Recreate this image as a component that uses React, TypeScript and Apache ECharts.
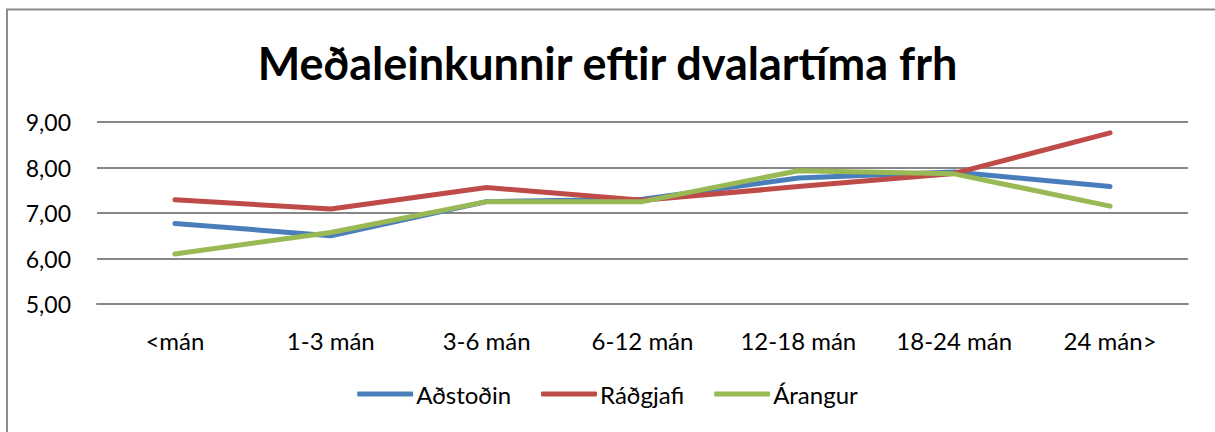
import React, { useEffect, useRef } from "react";
import * as echarts from "echarts";

const categories = ["<mán", "1-3 mán", "3-6 mán", "6-12 mán", "12-18 mán", "18-24 mán", "24 mán>"];
const adstodin = [6.77, 6.5, 7.25, 7.3, 7.77, 7.9, 7.58];
const radgjafi = [7.29, 7.09, 7.56, 7.28, 7.58, 7.87, 8.76];
const arangur = [6.1, 6.57, 7.25, 7.25, 7.93, 7.86, 7.15];
const titleText = "Meðaleinkunnir eftir dvalartíma frh";
const FONT = "Lato, 'Open Sans', sans-serif";

export default function App() {
  const ref = useRef<HTMLDivElement>(null);
  useEffect(() => {
    if (!ref.current) return;
    const chart = echarts.init(ref.current, null, { renderer: "svg" });
    const mk = (name: string, data: number[], color: string) => ({
      name,
      type: "line",
      data,
      symbol: "none",
      lineStyle: { width: 5, color, cap: "round", join: "round" },
      itemStyle: { color },
    });
    chart.setOption({
      animation: false,
      backgroundColor: "#ffffff",
      textStyle: { fontFamily: FONT },
      title: {
        text: titleText,
        left: "center",
        top: 35,
        textStyle: { fontFamily: FONT, fontSize: 45, fontWeight: "bold", color: "#000" },
      },
      grid: { left: 97, right: 27, top: 122, bottom: 128 },
      legend: {
        bottom: 21,
        left: "center",
        itemWidth: 56,
        itemHeight: 5,
        itemGap: 30,
        icon: "roundRect",
        textStyle: { fontFamily: FONT, fontSize: 24, color: "#000", padding: [0, 0, 0, -2] },
        data: ["Aðstoðin", "Ráðgjafi", "Árangur"],
      },
      xAxis: {
        type: "category",
        data: categories,
        boundaryGap: true,
        axisLine: { show: true, lineStyle: { color: "#878787", width: 2 } },
        axisTick: { show: false },
        axisLabel: { margin: 24, fontSize: 24, color: "#000", fontFamily: FONT },
      },
      yAxis: {
        type: "value",
        min: 5,
        max: 9,
        interval: 1,
        axisLine: { show: false },
        axisTick: { show: false },
        splitLine: { lineStyle: { color: "#878787", width: 2 } },
        axisLabel: {
          margin: 26,
          fontSize: 23,
          color: "#000",
          fontFamily: FONT,
          formatter: (v: number) => v.toFixed(2).replace(".", ","),
        },
      },
      graphic: [
        { type: "line", shape: { x1: 7, y1: 9.5, x2: 7, y2: 432 }, style: { stroke: "#8c8c8c", lineWidth: 2 } },
        { type: "line", shape: { x1: 6, y1: 9.5, x2: 1215, y2: 9.5 }, style: { stroke: "#8c8c8c", lineWidth: 2 } },
      ],
      series: [
        mk("Aðstoðin", adstodin, "#4A7EBB"),
        mk("Ráðgjafi", radgjafi, "#BE4B48"),
        mk("Árangur", arangur, "#98B954"),
      ],
    });
    return () => chart.dispose();
  }, []);
  return (
    <div
      ref={ref}
      style={{ position: "absolute", left: 0, top: 0, width: 1215, height: 432 }}
    />
  );
}
